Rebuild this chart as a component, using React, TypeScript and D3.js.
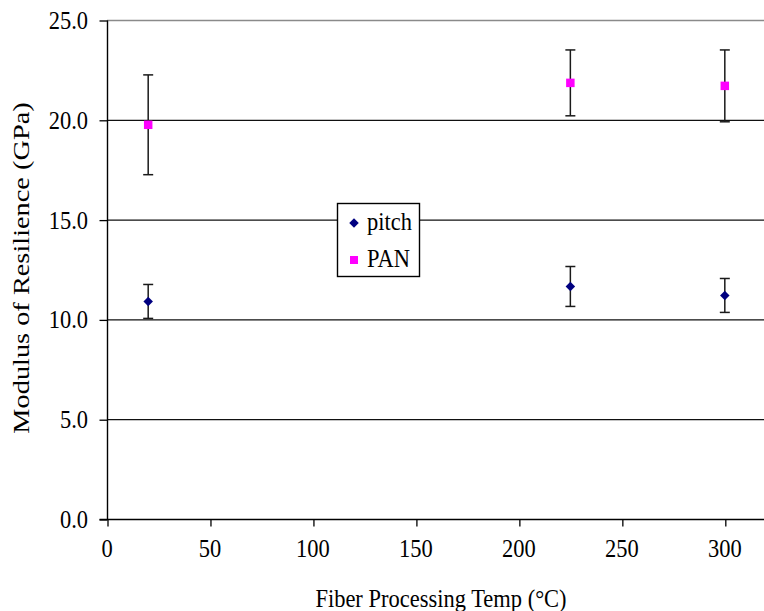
import React, { useEffect, useRef } from 'react';
import * as d3 from 'd3';

// values
const temps = [20, 225, 300];
const pitchMean = [10.9, 11.65, 11.2];
const pitchErr = [0.85, 1.0, 0.85];
const panMean = [19.75, 21.85, 21.7];
const panErr = [2.5, 1.65, 1.8];
const xTicks = [0, 50, 100, 150, 200, 250, 300];
const yTicks = [0, 5, 10, 15, 20, 25];

const App = () => {
  const ref = useRef<SVGSVGElement>(null);

  useEffect(() => {
    const W = 764;
    const font = '"Liberation Serif", "Times New Roman", serif';
    const fs = 22.5;
    const stretch = 1.12; // reference text is a bit taller than wide
    const svg = d3.select(ref.current);
    svg.selectAll('*').remove();

    const x = d3.scaleLinear().domain([0, 320]).range([107, 766]);
    const y = d3.scaleLinear().domain([0, 25]).range([519, 20]);

    const label = (tx: number, ty: number, txt: string, anchor: string) =>
      svg.append('text')
        .attr('transform', `translate(${tx},${ty}) scale(1,${stretch})`)
        .attr('text-anchor', anchor)
        .style('font-family', font).style('font-size', `${fs}px`)
        .attr('fill', '#000')
        .text(txt);

    // gridlines
    svg.append('g')
      .selectAll('line')
      .data(yTicks.filter(d => d > 0))
      .enter()
      .append('line')
      .attr('x1', x(0)).attr('x2', W)
      .attr('y1', d => y(d) + 0.5).attr('y2', d => y(d) + 0.5)
      .attr('stroke', d => (d === 25 ? '#8a8a8a' : '#111'))
      .attr('stroke-width', 1.3);

    // y axis
    const yAxis = svg.append('g')
      .attr('transform', `translate(${x(0) + 0.5},0.5)`)
      .call(d3.axisLeft(y).tickValues(yTicks).tickSize(8).tickFormat(() => ''));
    yAxis.select('.domain').attr('stroke', '#000').attr('stroke-width', 1.4).attr('d', `M0,${y(25)}V${y(0)}`);
    yAxis.selectAll('.tick line').attr('stroke', '#000').attr('stroke-width', 1.3);
    yTicks.forEach(t => label(88, y(t) + 9, d3.format('.1f')(t), 'end'));

    // x axis
    const xAxis = svg.append('g')
      .attr('transform', `translate(0.5,${y(0) + 0.5})`)
      .call(d3.axisBottom(x).tickValues(xTicks).tickSize(7).tickFormat(() => ''));
    xAxis.select('.domain').attr('stroke', '#000').attr('stroke-width', 1.4).attr('d', `M${x(0) - 8},0H${W}`);
    xAxis.selectAll('.tick line').attr('stroke', '#000').attr('stroke-width', 1.3);
    xTicks.forEach(t => label(x(t), 557, String(t), 'middle'));

    // titles
    label(441, 607, 'Fiber Processing Temp (°C)', 'middle');
    svg.append('text')
      .attr('transform', `translate(29,268) rotate(-90) scale(1.26,1)`)
      .attr('text-anchor', 'middle')
      .style('font-family', font).style('font-size', `${fs}px`)
      .attr('fill', '#000')
      .text('Modulus of Resilience (GPa)');

    const series = [
      { mean: pitchMean, err: pitchErr, shape: d3.symbolSquare, size: 45, rot: 45, color: '#000080' },
      { mean: panMean, err: panErr, shape: d3.symbolSquare, size: 72, rot: 0, color: '#FF00FF' },
    ];

    series.forEach(s => {
      const rows = temps.map((t, i) => ({ t, m: s.mean[i], e: s.err[i] }));
      const g = svg.append('g');
      const bars = g.selectAll('g.err').data(rows).enter().append('g')
        .attr('stroke', '#1a1a1a').attr('stroke-width', 1.5);
      bars.append('line')
        .attr('x1', d => x(d.t)).attr('x2', d => x(d.t))
        .attr('y1', d => y(d.m + d.e)).attr('y2', d => y(d.m - d.e));
      bars.append('line')
        .attr('x1', d => x(d.t) - 5).attr('x2', d => x(d.t) + 5)
        .attr('y1', d => y(d.m + d.e)).attr('y2', d => y(d.m + d.e));
      bars.append('line')
        .attr('x1', d => x(d.t) - 5).attr('x2', d => x(d.t) + 5)
        .attr('y1', d => y(d.m - d.e)).attr('y2', d => y(d.m - d.e));
      g.selectAll('path.pt').data(rows).enter().append('path')
        .attr('d', d3.symbol().type(s.shape).size(s.size))
        .attr('transform', d => `translate(${x(d.t)},${y(d.m)}) rotate(${s.rot})`)
        .attr('fill', s.color);
    });

    // legend
    const lg = svg.append('g');
    lg.append('rect')
      .attr('x', 337.5).attr('y', 203.5).attr('width', 82).attr('height', 73)
      .attr('fill', '#fff').attr('stroke', '#000').attr('stroke-width', 1.4);
    const items = [
      { label: 'pitch', shape: d3.symbolSquare, size: 45, rot: 45, color: '#000080', cy: 223 },
      { label: 'PAN', shape: d3.symbolSquare, size: 64, rot: 0, color: '#FF00FF', cy: 260 },
    ];
    items.forEach(it => {
      lg.append('path')
        .attr('d', d3.symbol().type(it.shape).size(it.size))
        .attr('transform', `translate(354,${it.cy}) rotate(${it.rot})`)
        .attr('fill', it.color);
      lg.append('text')
        .attr('transform', `translate(367,${it.cy + 7}) scale(1,${stretch})`)
        .style('font-family', font).style('font-size', `${fs}px`)
        .attr('fill', '#000')
        .text(it.label);
    });
  }, []);

  return (
    <svg ref={ref} width={764} height={611} style={{ position: 'absolute', left: 0, top: 0, background: '#fff' }} />
  );
};

export default App;
